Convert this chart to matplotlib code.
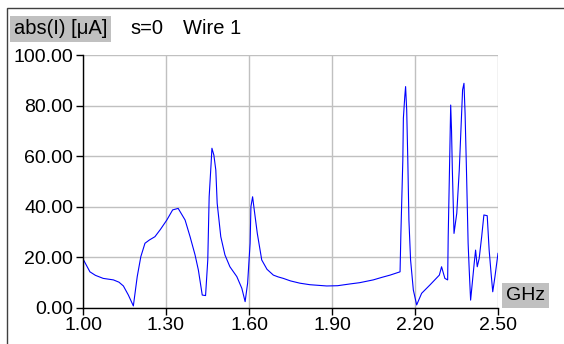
import matplotlib
matplotlib.use("Agg")
import matplotlib.pyplot as plt
from matplotlib.patches import Rectangle

plt.rcParams['font.family'] = ['Liberation Sans', 'DejaVu Sans']

# frequency (GHz) and current magnitude (uA)
freq = [1.000, 1.025, 1.045, 1.073, 1.110, 1.130, 1.146, 1.164, 1.182, 1.196,
        1.209, 1.224, 1.240, 1.260, 1.280, 1.303, 1.324, 1.344, 1.369, 1.387,
        1.405, 1.417, 1.431, 1.443, 1.451, 1.456, 1.463, 1.466, 1.473, 1.480,
        1.485, 1.498, 1.513, 1.531, 1.556, 1.574, 1.586, 1.595, 1.604, 1.607,
        1.613, 1.619, 1.630, 1.646, 1.665, 1.688, 1.705, 1.724, 1.750, 1.784,
        1.820, 1.881, 1.920, 1.965, 2.000, 2.049, 2.080, 2.110, 2.146, 2.149,
        2.156, 2.158, 2.163, 2.166, 2.170, 2.174, 2.178, 2.184, 2.194, 2.206,
        2.224, 2.254, 2.288, 2.296, 2.308, 2.318, 2.320, 2.326, 2.329, 2.332,
        2.335, 2.341, 2.351, 2.360, 2.366, 2.372, 2.377, 2.381, 2.386, 2.392,
        2.396, 2.401, 2.407, 2.414, 2.419, 2.425, 2.432, 2.441, 2.449, 2.461,
        2.468, 2.475, 2.481, 2.489, 2.500]
current = [19.3, 14.2, 12.8, 11.6, 11.0, 10.1, 8.6, 5.0, 0.7, 12.3,
           20.2, 25.5, 26.8, 28.1, 31.0, 34.7, 38.7, 39.3, 34.7, 28.1,
           20.9, 14.9, 5.0, 4.8, 18.9, 43.9, 57.0, 63.1, 60.4, 54.5,
           41.3, 28.1, 20.9, 16.2, 12.3, 7.7, 2.4, 9.7, 25.5, 40.0,
           43.9, 38.7, 29.4, 18.9, 15.2, 12.9, 12.2, 11.6, 10.6, 9.7,
           9.1, 8.6, 8.7, 9.4, 9.9, 11.0, 12.0, 12.9, 14.2, 29.4,
           58.4, 75.0, 83.5, 87.5, 78.2, 58.4, 34.7, 18.9, 7.0, 1.1,
           5.7, 9.0, 12.9, 16.2, 11.6, 11.0, 28.1, 62.4, 80.2, 70.3,
           54.5, 29.4, 37.4, 54.5, 70.3, 86.2, 88.8, 76.9, 54.5, 25.5,
           14.9, 3.0, 9.7, 17.6, 22.8, 16.2, 19.5, 28.1, 36.7, 36.4,
           22.8, 13.6, 6.3, 12.3, 21.5]

x_ticks = [1.00, 1.30, 1.60, 1.90, 2.20, 2.50]
y_ticks = [0, 20, 40, 60, 80, 100]

W, H = 564, 344
fig = plt.figure(figsize=(W / 100, H / 100), dpi=100)

# outer frame
fig.patches.append(Rectangle((7 / W, -0.1), 1.2, 1 - 8 / H + 0.1,
                             transform=fig.transFigure, fill=False,
                             edgecolor='#404040', linewidth=1.0))

ax = fig.add_axes([83 / W, 1 - 307.7 / H, 415 / W, 252.7 / H])
ax.plot(freq, current, color='#0000ff', linewidth=0.8)

ax.set_xlim(1.0, 2.5)
ax.set_ylim(0, 100)
ax.set_xticks(x_ticks)
ax.set_xticklabels([f"{t:.2f}" for t in x_ticks])
ax.set_yticks(y_ticks)
ax.set_yticklabels([f"{t:.2f}" for t in y_ticks])
ax.grid(True, color='#c0c0c0', linewidth=1.0)
ax.set_axisbelow(True)
for side in ['top', 'right']:
    ax.spines[side].set_visible(False)
for side in ['left', 'bottom']:
    ax.spines[side].set_color('black')
    ax.spines[side].set_linewidth(1.0)
ax.tick_params(direction='out', length=5, width=1, labelsize=14,
               colors='black', pad=2)

fig.text(14 / W, 1 - 29 / H, "abs(I) [\u03bcA]", fontsize=14.5, va='center',
         ha='left', bbox=dict(boxstyle='square,pad=0.18', facecolor='#c0c0c0',
                              edgecolor='none'))
fig.text(130 / W, 1 - 29 / H, "s=0", fontsize=14.5, va='center', ha='left')
fig.text(183 / W, 1 - 29 / H, "Wire 1", fontsize=14.5, va='center', ha='left')
fig.text(506 / W, 1 - 295.5 / H, "GHz", fontsize=14, va='center', ha='left',
         bbox=dict(boxstyle='square,pad=0.2', facecolor='#c0c0c0',
                   edgecolor='none'))

fig.savefig("out.png", dpi=100)
